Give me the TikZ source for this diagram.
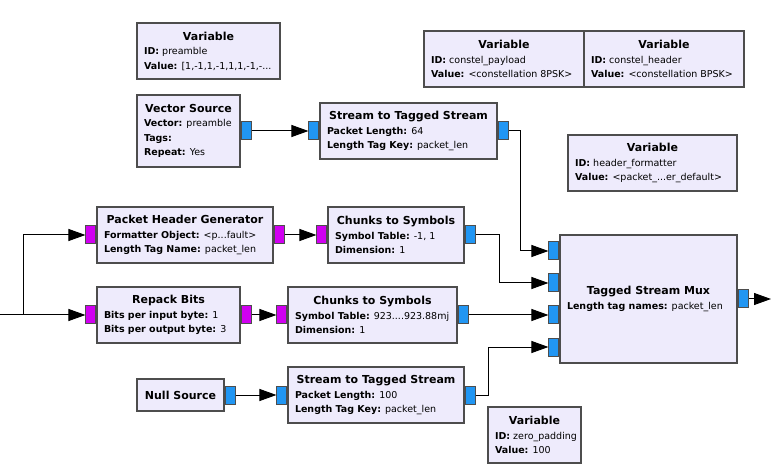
\documentclass[tikz,border=0pt]{standalone}
\usepackage{fontspec}
\setmainfont{DejaVu Sans}
\usetikzlibrary{arrows.meta,positioning,calc}
\definecolor{blkfill}{HTML}{EEEBFC}
\definecolor{edge}{HTML}{4D4D4D}
\definecolor{cplx}{HTML}{2196F3}
\definecolor{byte}{HTML}{D000F0}
\tikzset{
  blk/.style={draw=edge, fill=blkfill, line width=1.1pt, inner xsep=7pt, inner ysep=0pt, align=flush left,
              font=\fontsize{9.5}{14.5}\selectfont},
  pin/.style={draw=edge, line width=1pt, minimum width=10pt, minimum height=18pt, inner sep=0pt},
  pcx/.style={pin, fill=cplx},
  pby/.style={pin, fill=byte},
  flow/.style={-{Triangle[length=17pt,width=12pt]}, line width=1pt, black},
}
\newcommand{\hd}[1]{\hbox to\hsize{\hss\fontsize{11}{14.5}\selectfont\bfseries #1\hss}}
\newcommand{\kv}[2]{\mbox{\textbf{#1:} #2}}

\begin{document}
\begin{tikzpicture}[x=1pt, y=-1pt]
    \useasboundingbox (0,0) rectangle (771,470);
    % variables
    \node[blk, text width=129pt, minimum height=56pt] (vpre) at (208.5,51) {\hd{Variable}\\
      \kv{ID}{preamble}\\\kv{Value}{[1,-1,1,-1,1,1,-1,-...}};
    \node[blk, text width=146pt, minimum height=56pt] (vpay) at (504,59) {\hd{Variable}\\
      \kv{ID}{constel\_payload}\\\kv{Value}{<constellation 8PSK>}};
    \node[blk, text width=146pt, minimum height=56pt] (vhdr) at (664,59) {\hd{Variable}\\
      \kv{ID}{constel\_header}\\\kv{Value}{<constellation BPSK>}};
    \node[blk, text width=155pt, minimum height=56pt] (vfmt) at (652.5,163) {\hd{Variable}\\
      \kv{ID}{header\_formatter}\\\kv{Value}{<packet\_...er\_default>}};
    \node[blk, text width=79pt, minimum height=56pt] (vpad) at (534.5,435) {\hd{Variable}\\
      \kv{ID}{zero\_padding}\\\kv{Value}{100}};
    % blocks
    \node[blk, text width=89pt, minimum height=72pt] (vsrc) at (188.5,131) {\hd{Vector Source}\\
      \kv{Vector}{preamble}\\\kv{Tags}{}\\\kv{Repeat}{Yes}};
    \node[blk, text width=163pt, minimum height=56pt] (tagA) at (408.5,131) {\hd{Stream to Tagged Stream}\\
      \kv{Packet Length}{64}\\\kv{Length Tag Key}{packet\_len}};
    \node[blk, text width=162pt, minimum height=56pt] (hgen) at (185,235) {\hd{Packet Header Generator}\\
      \kv{Formatter Object}{<p...fault>}\\\kv{Length Tag Name}{packet\_len}};
    \node[blk, text width=122pt, minimum height=56pt] (symA) at (396,235) {\hd{Chunks to Symbols}\\
      \kv{Symbol Table}{-1, 1}\\\kv{Dimension}{1}};
    \node[blk, text width=129pt, minimum height=56pt] (rpck) at (168.5,315) {\hd{Repack Bits}\\
      \kv{Bits per input byte}{1}\\\kv{Bits per output byte}{3}};
    \node[blk, text width=155pt, minimum height=56pt] (symB) at (372.5,315) {\hd{Chunks to Symbols}\\
      \kv{Symbol Table}{923....923.88mj}\\\kv{Dimension}{1}};
    \node[blk, text width=73pt, minimum height=32pt] (nsrc) at (180.5,395) {\hd{Null Source}};
    \node[blk, text width=162pt, minimum height=56pt] (tagB) at (376,395) {\hd{Stream to Tagged Stream}\\
      \kv{Packet Length}{100}\\\kv{Length Tag Key}{packet\_len}};
    \node[blk, text width=163pt, minimum height=128pt] (mux) at (648.5,299) {\hd{Tagged Stream Mux}\\
      \kv{Length tag names}{packet\_len}};
    % ports
    \node[pcx, anchor=west] (vsrcO) at (vsrc.east) {};
    \node[pcx, anchor=east] (tagAI) at (tagA.west) {};
    \node[pcx, anchor=west] (tagAO) at (tagA.east) {};
    \node[pby, anchor=east] (hgenI) at (hgen.west) {};
    \node[pby, anchor=west] (hgenO) at (hgen.east) {};
    \node[pby, anchor=east] (symAI) at (symA.west) {};
    \node[pcx, anchor=west] (symAO) at (symA.east) {};
    \node[pby, anchor=east] (rpckI) at (rpck.west) {};
    \node[pby, anchor=west] (rpckO) at (rpck.east) {};
    \node[pby, anchor=east] (symBI) at (symB.west) {};
    \node[pcx, anchor=west] (symBO) at (symB.east) {};
    \node[pcx, anchor=west] (nsrcO) at (nsrc.east) {};
    \node[pcx, anchor=east] (tagBI) at (tagB.west) {};
    \node[pcx, anchor=west] (tagBO) at (tagB.east) {};
    \foreach \i/\dy in {1/-48,2/-16,3/16,4/48}
      \node[pcx, anchor=east] (muxI\i) at ($(mux.west)+(0,\dy)$) {};
    \node[pcx, anchor=west] (muxO) at (mux.east) {};
    % connections
    \coordinate (src) at (0,315);
    \coordinate (fork) at (23,315);
    \coordinate (sink) at (771,299);
    \draw[flow] (src) -- (rpckI);
    \draw[flow] (fork) |- (hgenI.west);
    \draw[flow] (vsrcO) -- (tagAI);
    \draw[flow] (hgenO) -- (symAI);
    \draw[flow] (rpckO) -- (symBI);
    \draw[flow] (nsrcO) -- (tagBI);
    \draw[flow] (tagAO.east) -- ++(12,0) |- (muxI1.west);
    \draw[flow] (symAO.east) -- ++(24,0) |- (muxI2.west);
    \draw[flow] (symBO) -- (muxI3);
    \draw[flow] (tagBO.east) -- ++(13,0) |- (muxI4.west);
    \draw[flow] (muxO) -- (sink);
\end{tikzpicture}
\end{document}
